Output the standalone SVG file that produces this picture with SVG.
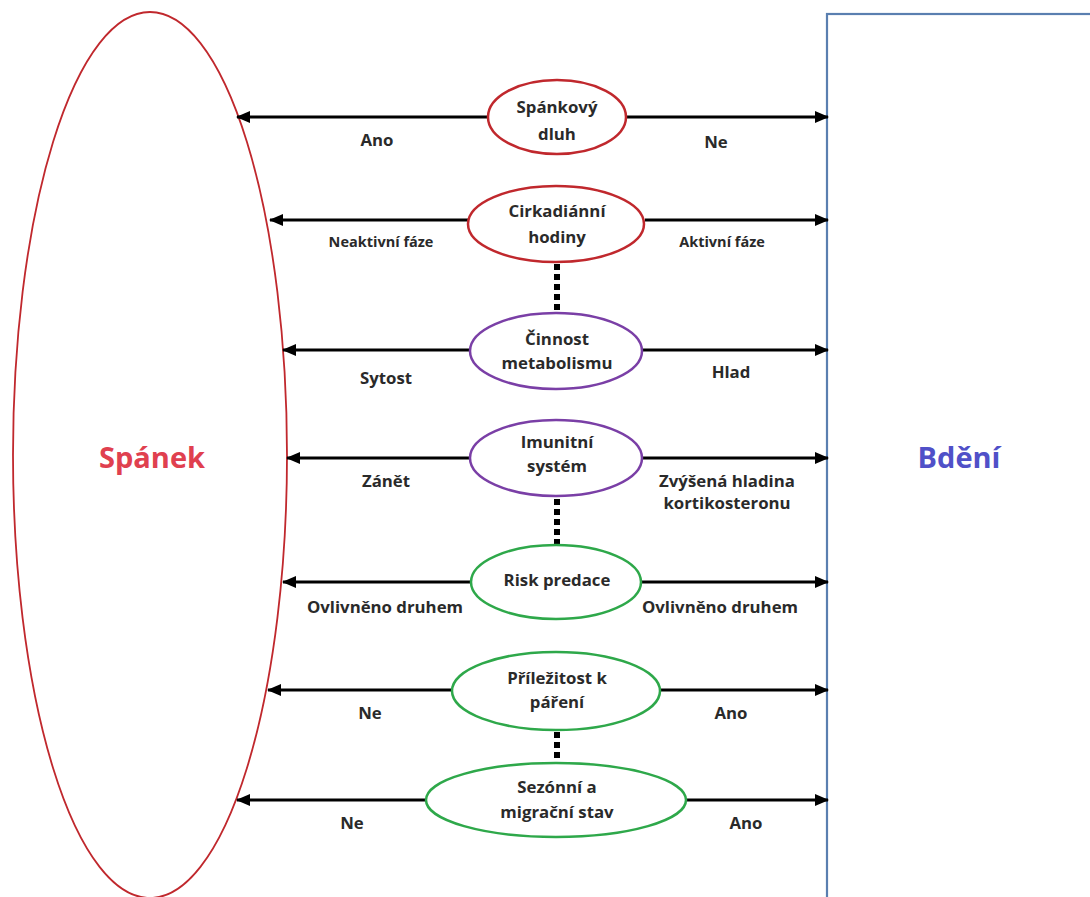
<svg xmlns="http://www.w3.org/2000/svg" width="1090" height="897" viewBox="0 0 1090 897">
<defs>
<marker id="ah" viewBox="0 0 14 12" refX="13" refY="6" markerWidth="14" markerHeight="12" markerUnits="userSpaceOnUse" orient="auto-start-reverse">
<path d="M0,0 L14,6 L0,12 Z" fill="#000"/>
</marker>
<style>
.t{font-family:"Open Sans",Lato,"Liberation Sans",sans-serif;font-weight:bold;font-size:16.8px;fill:#2a2a2a;text-anchor:middle}
.s{font-size:14.5px}
.a{stroke:#000;stroke-width:3;fill:none;marker-end:url(#ah)}
.d{stroke:#000;stroke-width:6;stroke-dasharray:6 4;fill:none}
.red{fill:#fff;stroke:#c0282d;stroke-width:2.5}
.pur{fill:#fff;stroke:#7a3fa6;stroke-width:2.5}
.grn{fill:#fff;stroke:#2ea84a;stroke-width:2.5}
.big{font-family:"Open Sans",Lato,"Liberation Sans",sans-serif;font-weight:bold;font-size:29px;text-anchor:middle}
</style>
</defs>
<rect width="1090" height="897" fill="#fff"/>
<g id="spanek">
<ellipse cx="150" cy="455" rx="137" ry="443" fill="#fff" stroke="#c0282d" stroke-width="1.8"/>
<text class="big" x="152" y="468" fill="#e0404f">Spánek</text>
</g>
<g id="bdeni">
<rect x="827" y="14" width="280" height="900" fill="#fff" stroke="#5a7fb0" stroke-width="2.2"/>
<text class="big" x="959" y="468" fill="#5050c8">Bdění</text>
</g>
<g id="connectors">
<line class="a" x1="488" y1="117" x2="237" y2="117"/>
<line class="a" x1="626" y1="117" x2="828" y2="117"/>
<line class="a" x1="468" y1="220" x2="270" y2="220"/>
<line class="a" x1="645" y1="220" x2="828" y2="220"/>
<line class="a" x1="470" y1="350" x2="283" y2="350"/>
<line class="a" x1="641" y1="350" x2="828" y2="350"/>
<line class="a" x1="470" y1="458" x2="287" y2="458"/>
<line class="a" x1="641" y1="458" x2="828" y2="458"/>
<line class="a" x1="471" y1="582" x2="283" y2="582"/>
<line class="a" x1="641" y1="582" x2="828" y2="582"/>
<line class="a" x1="452" y1="690" x2="268" y2="690"/>
<line class="a" x1="660" y1="690" x2="828" y2="690"/>
<line class="a" x1="426" y1="800" x2="237" y2="800"/>
<line class="a" x1="687" y1="800" x2="828" y2="800"/>
<line class="d" x1="557" y1="264" x2="557" y2="312"/>
<line class="d" x1="557" y1="499" x2="557" y2="544"/>
<line class="d" x1="557" y1="732" x2="557" y2="762"/>
</g>
<g id="labels">
<text class="t" x="377" y="146">Ano</text>
<text class="t" x="716" y="148">Ne</text>
<text class="t s" x="381" y="247">Neaktivní fáze</text>
<text class="t s" x="722" y="247">Aktivní fáze</text>
<text class="t" x="386" y="384">Sytost</text>
<text class="t" x="731" y="378">Hlad</text>
<text class="t" x="386" y="487">Zánět</text>
<text class="t" x="727" y="487">Zvýšená hladina</text>
<text class="t" x="727" y="509">kortikosteronu</text>
<text class="t" x="385" y="613">Ovlivněno druhem</text>
<text class="t" x="720" y="613">Ovlivněno druhem</text>
<text class="t" x="370" y="719">Ne</text>
<text class="t" x="731" y="719">Ano</text>
<text class="t" x="352" y="829">Ne</text>
<text class="t" x="746" y="829">Ano</text>
</g>
<g id="n1"><ellipse class="red" cx="557" cy="117" rx="69" ry="37"/><text class="t" x="557" y="113">Spánkový</text><text class="t" x="557" y="140">dluh</text></g>
<g id="n2"><ellipse class="red" cx="556" cy="224" rx="88" ry="38"/><text class="t" x="557" y="217">Cirkadiánní</text><text class="t" x="557" y="243">hodiny</text></g>
<g id="n3"><ellipse class="pur" cx="556" cy="351" rx="86" ry="38"/><text class="t" x="557" y="345">Činnost</text><text class="t" x="557" y="369">metabolismu</text></g>
<g id="n4"><ellipse class="pur" cx="556" cy="458" rx="86" ry="38"/><text class="t" x="557" y="448">Imunitní</text><text class="t" x="557" y="472">systém</text></g>
<g id="n5"><ellipse class="grn" cx="556" cy="582" rx="85" ry="37"/><text class="t" x="557" y="586">Risk predace</text></g>
<g id="n6"><ellipse class="grn" cx="556" cy="691" rx="104" ry="39"/><text class="t" x="557" y="684">Příležitost k</text><text class="t" x="557" y="708">páření</text></g>
<g id="n7"><ellipse class="grn" cx="556" cy="800" rx="130" ry="37"/><text class="t" x="557" y="793">Sezónní a</text><text class="t" x="557" y="818">migrační stav</text></g>
</svg>
